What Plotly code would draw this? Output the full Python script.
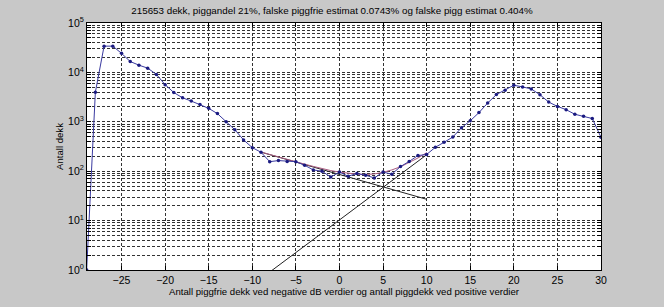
import plotly.graph_objects as go

# Measured histogram (blue line with dots)
x_vals = list(range(-29, 31))
counts = [1, 3980, 34000, 34000, 24300, 16600, 14000, 12200, 9100, 5650,
          3910, 3060, 2630, 2250, 1870, 1465, 1000, 690, 430, 300,
          242, 156, 164, 158, 156, 132, 106, 100, 76, 96,
          79, 90, 83, 73, 96, 87, 124, 158, 207, 218,
          305, 385, 492, 759, 1047, 1535, 2400, 3560, 4370, 5500,
          5080, 4630, 3520, 2510, 2050, 1760, 1420, 1294, 1164, 485]

# Combined fit (magenta line)
fit_x = list(range(-9, 11))
fit_sum = [244, 217, 194, 174, 155, 139, 125, 113, 103, 96,
           90, 87, 86, 88, 95, 106, 123, 149, 185, 237]

# Straight-line fits (black)
fit_free_x = [-9, 10]
fit_free_y = [243, 27]
fit_stud_x = [-8, 10]
fit_stud_y = [0.908, 215]

title_text = "215653 dekk, piggandel 21%, falske piggfrie estimat 0.0743% og falske pigg estimat 0.404%"
xlabel = "Antall piggfrie dekk ved negative dB verdier og antall piggdekk ved positive verdier"
ylabel = "Antall dekk"
x_ticks = [-25, -20, -15, -10, -5, 0, 5, 10, 15, 20, 25, 30]

y_tickvals = []
y_ticktext = []
for d in range(0, 6):
    for m in range(1, 10):
        v = m * 10 ** d
        if v > 1e5:
            break
        y_tickvals.append(v)
        y_ticktext.append(f"10<sup>{d}</sup>" if m == 1 else " ")

fig = go.Figure()
fig.add_trace(go.Scatter(x=fit_free_x, y=fit_free_y, mode="lines",
                         line=dict(color="#222222", width=1), showlegend=False))
fig.add_trace(go.Scatter(x=fit_stud_x, y=fit_stud_y, mode="lines",
                         line=dict(color="#222222", width=1), showlegend=False))
fig.add_trace(go.Scatter(x=fit_x, y=fit_sum, mode="lines",
                         line=dict(color="#a85a80", width=1), showlegend=False))
fig.add_trace(go.Scatter(x=x_vals, y=counts, mode="lines+markers",
                         line=dict(color="#3a3aa0", width=1),
                         marker=dict(color="#1a1a80", size=3.5),
                         cliponaxis=True, showlegend=False))

fam = "Liberation Sans, Arial, sans-serif"
font = dict(family=fam, size=10, color="black")

fig.update_layout(
    width=664, height=307,
    margin=dict(l=87, r=63, t=23, b=34),
    paper_bgcolor="#c8c8c8", plot_bgcolor="white",
    font=font,
    title=dict(text=title_text, x=0.5, xanchor="center", y=1 - 11 / 307,
               yanchor="middle", font=dict(family=fam, size=9.8, color="black")),
    xaxis=dict(range=[-28.96, 30], tickvals=x_ticks, ticks="inside", ticklen=4,
               tickcolor="black", showline=True, linecolor="black", mirror="ticks",
               showgrid=True, gridcolor="#333333", griddash="3px,2px", gridwidth=1,
               zeroline=False,
               title=dict(text=xlabel, standoff=3,
                          font=dict(family=fam, size=9.6, color="black")),
               tickfont=dict(family=fam, size=10.5, color="black")),
    yaxis=dict(type="log", range=[0, 5], tickvals=y_tickvals, ticktext=y_ticktext,
               ticks="inside", ticklen=4, tickcolor="black", showline=True,
               linecolor="black", mirror="ticks", showgrid=True,
               gridcolor="#333333", griddash="3px,2px", gridwidth=1,
               zeroline=False,
               title=dict(text=ylabel, standoff=2,
                          font=dict(family=fam, size=9.6, color="black")),
               tickfont=dict(family=fam, size=10.5, color="black")),
)

fig.write_html("out.html")
